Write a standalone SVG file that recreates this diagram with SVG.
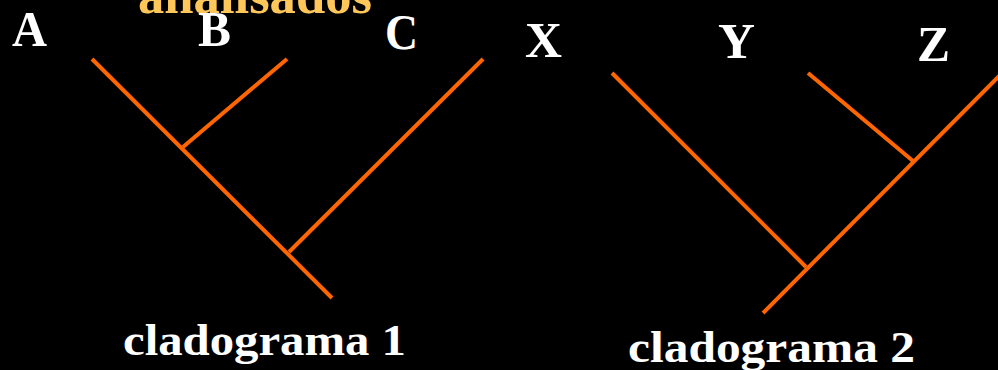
<svg xmlns="http://www.w3.org/2000/svg" width="998" height="370" viewBox="0 0 998 370">
<style>
.br{stroke:#FF6600;stroke-width:4;stroke-linecap:butt;fill:none}
.lbl{font-family:"Liberation Serif","Times New Roman",serif;font-weight:bold;fill:#FFFFFF;font-size:50px}
.cap{font-family:"Liberation Serif","Times New Roman",serif;font-weight:bold;fill:#FFFFFF;font-size:44px}
.ttl{font-family:"Liberation Serif","Times New Roman",serif;font-weight:bold;fill:#FFC65A;font-size:52px}
</style>
<rect x="0" y="0" width="998" height="370" fill="#000000"/>
<text class="ttl" x="138" y="13" textLength="234" lengthAdjust="spacingAndGlyphs">analisados</text>
<g id="connectors">
<line class="br" x1="92" y1="59" x2="332" y2="298"/>
<line class="br" x1="183" y1="147" x2="287" y2="59"/>
<line class="br" x1="289" y1="252" x2="483" y2="59"/>
<line class="br" x1="612" y1="73" x2="806" y2="267"/>
<line class="br" x1="808" y1="73" x2="913" y2="161"/>
<line class="br" x1="763" y1="313" x2="1010" y2="65"/>
</g>
<g id="A"><text class="lbl" x="12" y="46" textLength="35" lengthAdjust="spacingAndGlyphs">A</text></g>
<g id="B"><text class="lbl" x="198" y="46" textLength="33" lengthAdjust="spacingAndGlyphs">B</text></g>
<g id="C"><text class="lbl" x="385" y="49" textLength="33" lengthAdjust="spacingAndGlyphs">C</text></g>
<g id="X"><text class="lbl" x="525" y="57" textLength="37" lengthAdjust="spacingAndGlyphs">X</text></g>
<g id="Y"><text class="lbl" x="718" y="58" textLength="37" lengthAdjust="spacingAndGlyphs">Y</text></g>
<g id="Z"><text class="lbl" x="917" y="61" textLength="33" lengthAdjust="spacingAndGlyphs">Z</text></g>
<g id="cladograma1"><text class="cap" x="123" y="355" textLength="283" lengthAdjust="spacingAndGlyphs">cladograma  1</text></g>
<g id="cladograma2"><text class="cap" x="628" y="362" textLength="287" lengthAdjust="spacingAndGlyphs">cladograma  2</text></g>
</svg>
